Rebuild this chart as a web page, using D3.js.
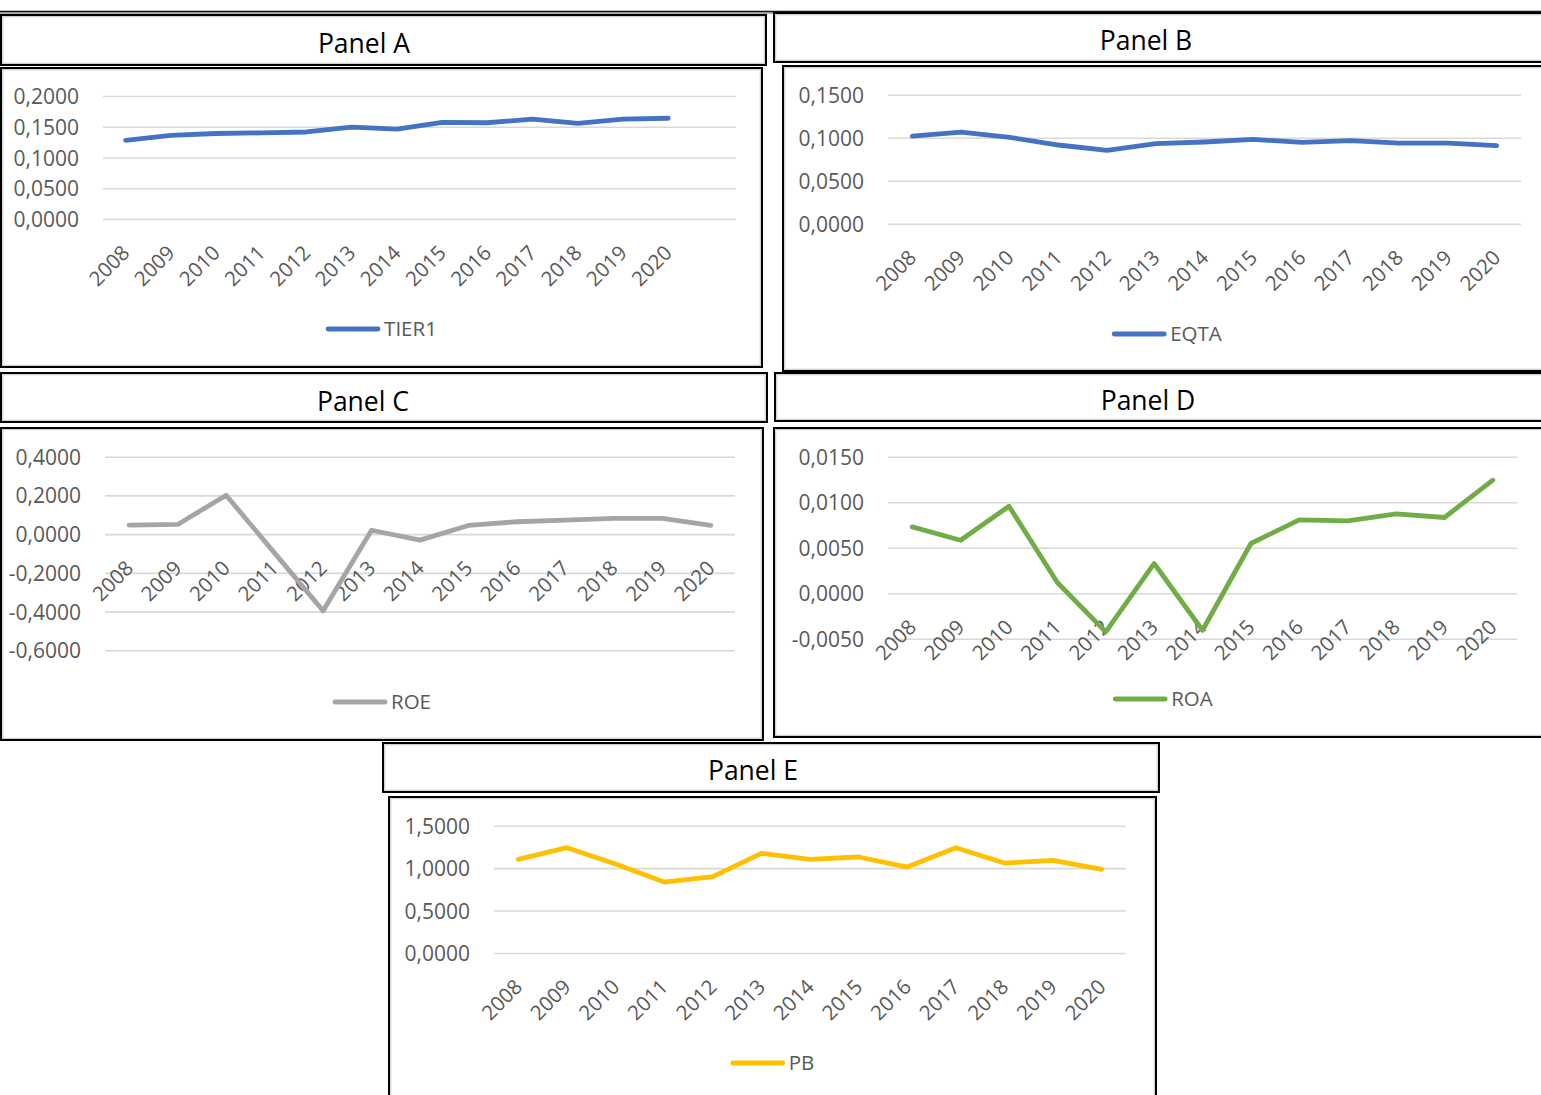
<!DOCTYPE html>
<html>
<head>
<meta charset="utf-8">
<script src="https://cdn.jsdelivr.net/npm/d3@7/dist/d3.min.js"></script>
<style>
  html, body { margin: 0; padding: 0; background: #ffffff; overflow: hidden; }
  svg { display: block; }
</style>
</head>
<body>
<svg id="fig" width="1541" height="1095"></svg>
<script>
// ---- data ----------------------------------------------------------------
const years = ["2008","2009","2010","2011","2012","2013","2014","2015","2016","2017","2018","2019","2020"];

const tier1 = [0.128, 0.136, 0.139, 0.140, 0.1415, 0.1495, 0.146, 0.157, 0.1565, 0.1625, 0.1555, 0.1625, 0.1638];
const eqta  = [0.1019, 0.1066, 0.1004, 0.0915, 0.0853, 0.0930, 0.0950, 0.0980, 0.0946, 0.0965, 0.0938, 0.0938, 0.0907];
const roe   = [0.0465, 0.0500, 0.2010, -0.0980, -0.3960, 0.0200, -0.0310, 0.0450, 0.0640, 0.0720, 0.0810, 0.0810, 0.0450];
const roa   = [0.00729, 0.00582, 0.00956, 0.00117, -0.00425, 0.00326, -0.00407, 0.00546, 0.00806, 0.00795, 0.00872, 0.00832, 0.01242];
const pb    = [1.103, 1.241, 1.048, 0.836, 0.899, 1.174, 1.103, 1.131, 1.013, 1.241, 1.060, 1.092, 0.985];

const tier1Ticks = [0, 0.05, 0.10, 0.15, 0.20];
const eqtaTicks  = [0, 0.05, 0.10, 0.15];
const roeTicks   = [-0.6, -0.4, -0.2, 0, 0.2, 0.4];
const roaTicks   = [-0.005, 0, 0.005, 0.010, 0.015];
const pbTicks    = [0, 0.5, 1.0, 1.5];

// ---- panel layout --------------------------------------------------------
const panels = [
  { title: "Panel A", name: "TIER1", values: tier1, ticks: tier1Ticks, color: "#4472C4",
    slots: years.concat([""]),
    titleBox: [0, 14, 767, 52], titleX: 364, titleBase: 53,
    chartBox: [0, 67, 763, 301],
    plot: { x0: 103, x1: 736, yTop: 96, yBot: 219 }, legendY: 329 },
  { title: "Panel B", name: "EQTA", values: eqta, ticks: eqtaTicks, color: "#4472C4",
    slots: years,
    titleBox: [773, 12, 780, 51], titleX: 1146, titleBase: 50,
    chartBox: [782, 65, 770, 307],
    plot: { x0: 888, x1: 1521, yTop: 94.7, yBot: 223.7 }, legendY: 334 },
  { title: "Panel C", name: "ROE", values: roe, ticks: roeTicks, color: "#A5A5A5",
    slots: years,
    titleBox: [0, 372, 768, 51], titleX: 363, titleBase: 411,
    chartBox: [0, 427, 764, 314],
    plot: { x0: 105, x1: 735, yTop: 456.7, yBot: 650.3 }, legendY: 702 },
  { title: "Panel D", name: "ROA", values: roa, ticks: roaTicks, color: "#70AD47",
    slots: years,
    titleBox: [774, 372, 780, 50], titleX: 1148, titleBase: 410,
    chartBox: [773, 427, 780, 311],
    plot: { x0: 888, x1: 1517, yTop: 456.7, yBot: 638.7 }, legendY: 699 },
  { title: "Panel E", name: "PB", values: pb, ticks: pbTicks, color: "#FFC000",
    slots: years,
    titleBox: [382, 742, 778, 51], titleX: 753, titleBase: 780,
    chartBox: [388, 796, 769, 320],
    plot: { x0: 494, x1: 1126, yTop: 825.7, yBot: 953 }, legendY: 1063 }
];

const FONT = "'Open Sans', 'Liberation Sans', Arial, sans-serif";
const locale = d3.formatLocale({ decimal: ",", thousands: ".", grouping: [3], currency: ["", ""], minus: "-" });
const fmt = locale.format(".4f");

const svg = d3.select("#fig");

// double rule across the top of the figure
svg.append("line").attr("x1", 0).attr("x2", 1541).attr("y1", 11.5).attr("y2", 11.5)
  .attr("stroke", "#111").attr("stroke-width", 1.3);
svg.append("line").attr("x1", 0).attr("x2", 1541).attr("y1", 13).attr("y2", 13)
  .attr("stroke", "#8c8c8c").attr("stroke-width", 1.6);

function frame(g, b) {
  const [x, y, w, h] = b;
  g.append("rect").attr("x", x + 1).attr("y", y + 1).attr("width", w - 2).attr("height", h - 2)
    .attr("fill", "#fff").attr("stroke", "#000").attr("stroke-width", 2);
  g.append("rect").attr("x", x + 2.8).attr("y", y + 2.8).attr("width", w - 5.6).attr("height", h - 5.6)
    .attr("fill", "none").attr("stroke", "#b4b4b4").attr("stroke-width", 0.8);
}

panels.forEach(p => {
  const g = svg.append("g");
  frame(g, p.titleBox);
  frame(g, p.chartBox);

  g.append("text").attr("x", p.titleX).attr("y", p.titleBase)
    .attr("text-anchor", "middle").attr("font-family", FONT).attr("font-size", 26.5)
    .attr("fill", "#000").text(p.title);

  const x = d3.scaleBand().domain(p.slots).range([p.plot.x0, p.plot.x1]).padding(0);
  const y = d3.scaleLinear().domain([d3.min(p.ticks), d3.max(p.ticks)]).range([p.plot.yBot, p.plot.yTop]);
  const cx = d => x(d) + x.bandwidth() / 2;

  // value axis with horizontal gridlines
  const yAxis = g.append("g").attr("transform", `translate(${p.plot.x0},0)`)
    .call(d3.axisLeft(y).tickValues(p.ticks).tickFormat(fmt)
      .tickSizeInner(-(p.plot.x1 - p.plot.x0)).tickSizeOuter(0).tickPadding(24));
  yAxis.select(".domain").remove();
  yAxis.selectAll(".tick line").attr("stroke", "#d9d9d9").attr("stroke-width", 1.6);
  yAxis.selectAll(".tick text").attr("fill", "#595959").attr("font-family", FONT)
    .attr("font-size", 21).attr("dy", "0.36em");

  // category axis, crossing at zero
  const xAxis = g.append("g").attr("transform", `translate(0,${y(0)})`)
    .call(d3.axisBottom(x).tickValues(years).tickSize(0));
  xAxis.select(".domain").remove();
  xAxis.selectAll(".tick text")
    .attr("x", 0).attr("y", 0).attr("dy", "0.36em")
    .attr("text-anchor", "end")
    .attr("transform", "translate(0,30) rotate(-45)")
    .attr("fill", "#595959").attr("font-family", FONT).attr("font-size", 20.5);

  // series line
  const pts = years.map((yr, i) => ({ yr, v: p.values[i] }));
  g.append("path").datum(pts)
    .attr("fill", "none").attr("stroke", p.color).attr("stroke-width", 4.8)
    .attr("stroke-linejoin", "round").attr("stroke-linecap", "round")
    .attr("d", d3.line().x(d => cx(d.yr)).y(d => y(d.v)));

  // legend, centred in the chart box
  const [bx, , bw] = p.chartBox;
  const lg = g.append("g");
  const label = lg.append("text").attr("font-family", FONT).attr("font-size", 20.5)
    .attr("fill", "#595959").attr("y", p.legendY + 7).text(p.name);
  const tw2 = label.node().getComputedTextLength();
  const swatch = 52, gap = 6;
  const start = bx + bw / 2 - (swatch + gap + tw2) / 2;
  lg.append("line").attr("x1", start + 2).attr("x2", start + swatch)
    .attr("y1", p.legendY).attr("y2", p.legendY)
    .attr("stroke", p.color).attr("stroke-width", 4.8).attr("stroke-linecap", "round");
  label.attr("x", start + swatch + gap);
});
</script>
</body>
</html>
